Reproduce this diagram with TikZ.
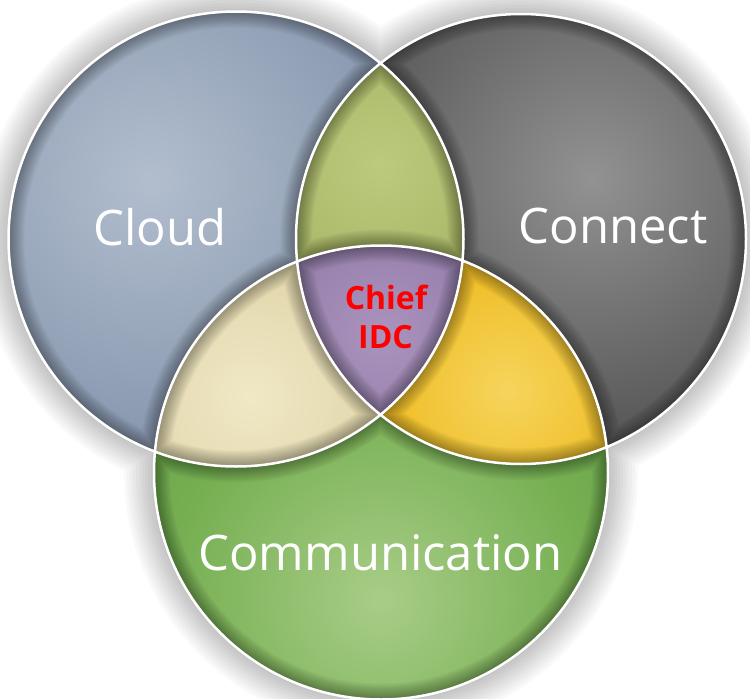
\documentclass[tikz,border=0pt]{standalone}
\usepackage{fontspec}
\setmainfont{Open Sans}
\definecolor{cloudH}{RGB}{178,190,206}
\definecolor{cloudM}{RGB}{140,155,178}
\definecolor{cloudE}{RGB}{104,119,144}
\definecolor{connH}{RGB}{146,146,146}
\definecolor{connM}{RGB}{92,92,92}
\definecolor{connE}{RGB}{45,45,45}
\definecolor{commH}{RGB}{168,205,135}
\definecolor{commM}{RGB}{118,175,82}
\definecolor{commE}{RGB}{80,140,55}
\definecolor{topH}{RGB}{188,202,125}
\definecolor{topE}{RGB}{135,152,68}
\definecolor{begH}{RGB}{240,232,198}
\definecolor{begE}{RGB}{203,187,130}
\definecolor{gldH}{RGB}{246,212,92}
\definecolor{gldM}{RGB}{238,186,30}
\definecolor{gldE}{RGB}{212,154,6}
\definecolor{purH}{RGB}{170,148,190}
\definecolor{purE}{RGB}{124,101,146}
\pgfdeclareradialshading{sCloud}{\pgfpointorigin}{color(0bp)=(cloudH); color(18bp)=(cloudM); color(50bp)=(cloudE)}
\pgfdeclareradialshading{sConn}{\pgfpointorigin}{color(0bp)=(connH); color(18bp)=(connM); color(50bp)=(connE)}
\pgfdeclareradialshading{sComm}{\pgfpointorigin}{color(0bp)=(commH); color(18bp)=(commM); color(50bp)=(commE)}
\pgfdeclareradialshading{sTop}{\pgfpointorigin}{color(0bp)=(topH); color(50bp)=(topE)}
\pgfdeclareradialshading{sBeg}{\pgfpointorigin}{color(0bp)=(begH); color(50bp)=(begE)}
\pgfdeclareradialshading{sGld}{\pgfpointorigin}{color(0bp)=(gldH); color(20bp)=(gldM); color(50bp)=(gldE)}
\pgfdeclareradialshading{sPur}{\pgfpointorigin}{color(0bp)=(purH); color(50bp)=(purE)}
\def\pA{(236,239) circle[radius=227.5pt]}
\def\pB{(521,239) circle[radius=225pt]}
\def\pC{(381,472.5) circle[radius=227pt]}
\tikzset{
  lbl/.style={text=white, font=\fontsize{49}{49}\selectfont, anchor=base, inner sep=0pt},
  core/.style={text=red, font=\bfseries\fontsize{32}{38}\selectfont, anchor=base, inner sep=0pt},
}
\begin{document}
\begin{tikzpicture}[x=1pt,y=-1pt]
\useasboundingbox (0,0) rectangle (750,699);
\fill[white] (0,0) rectangle (750,699);
% soft outer shadow
\foreach \d in {30,27,...,3}{
  \fill[black,opacity=0.022] (236,239) circle[radius=227.5pt+\d pt] (521,239) circle[radius=225pt+\d pt] (381,472.5) circle[radius=227pt+\d pt];
}
% Cloud
\begin{scope}
  \clip \pA;
  \fill[cloudE] (0,0) rectangle (750,699);
  \shade[shading=sCloud] (150,180) circle[radius=330pt];
\end{scope}
% Connect
\begin{scope}
  \clip \pB;
  \fill[connE] (0,0) rectangle (750,699);
  \shade[shading=sConn] (592,178) circle[radius=330pt];
\end{scope}
% Communication
\begin{scope}
  \clip \pC;
  \fill[commE] (0,0) rectangle (750,699);
  \shade[shading=sComm] (380,600) circle[radius=290pt];
\end{scope}
% Cloud & Connect
\begin{scope}
  \clip \pA; \clip \pB;
  \fill[topE] (0,0) rectangle (750,699);
  \shade[shading=sTop] (380,165) circle[radius=170pt];
\end{scope}
% Cloud & Communication
\begin{scope}
  \clip \pA; \clip \pC;
  \fill[begE] (0,0) rectangle (750,699);
  \shade[shading=sBeg] (250,397) circle[radius=170pt];
\end{scope}
% Connect & Communication
\begin{scope}
  \clip \pB; \clip \pC;
  \fill[gldE] (0,0) rectangle (750,699);
  \shade[shading=sGld] (507,390) circle[radius=180pt];
\end{scope}
% all three
\begin{scope}
  \clip \pA; \clip \pB; \clip \pC;
  \fill[purE] (0,0) rectangle (750,699);
  \shade[shading=sPur] (382,335) circle[radius=125pt];
\end{scope}
% inner rim darkening
\begin{scope}
  \clip \pA \pB \pC;
  \foreach \w in {32,30,...,2}{
    \draw[black,opacity=0.024,line width=\w pt] \pA \pB \pC;
  }
\end{scope}
% white outlines
\draw[white, line width=2.5pt] \pA \pB \pC;
% labels
\node[lbl] (cloud) at (160,245) {Cloud};
\node[lbl] (connect) at (613,243) {Connect};
\node[lbl] (comm) at (380.5,570) {Communication};
\node[core] (chief) at (386,309) {Chief};
\node[core] (idc) at (385.5,348) {IDC};
\end{tikzpicture}
\end{document}
